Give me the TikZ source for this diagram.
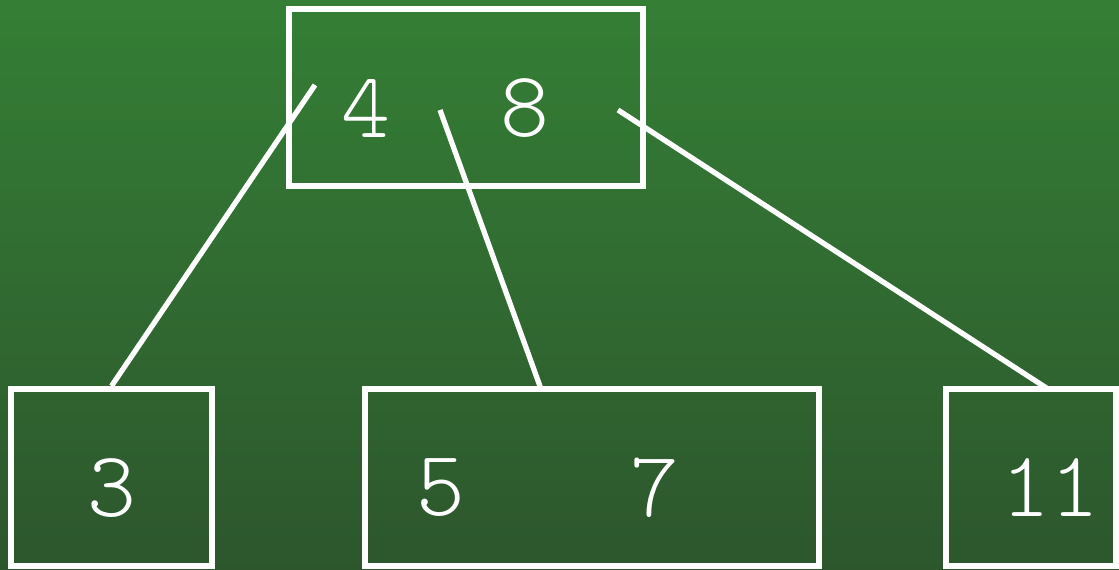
\documentclass[tikz,border=0pt]{standalone}
\usepackage{fontspec}
\setmonofont{Latin Modern Mono Light}
\usetikzlibrary{positioning}
\definecolor{treeTop}{HTML}{347F35}
\definecolor{treeBot}{HTML}{2D562D}

\begin{document}
\begin{tikzpicture}[
  x=0.02cm, y=-0.02cm, line width=3.4pt,
  font=\fontsize{53}{55}\selectfont\ttfamily,
  blk/.style={draw=white, minimum height=3.54cm, inner sep=0pt},
  key/.style={text=white, inner sep=0pt},
  link/.style={draw=white, line width=3pt}
]
% background
\shade[top color=treeTop, bottom color=treeBot] (0,0) rectangle (1119,570);
\useasboundingbox (0,0) rectangle (1119,570);

% root
\node[blk, minimum width=7.08cm] (root) at (466,97.5) {};
\node[key] (k4) at (366,108) {4};
\node[key] (k8) at (525,108) {8};

% leaves
\node[blk, minimum width=4.02cm] (left) at (111.5,477.5) {};
\node[key] (k3) at (112,488) {3};
\node[blk, minimum width=9.08cm] (mid) at (592,477.5) {};
\node[key] (k5) at (441,488) {5};
\node[key] (k7) at (655,488) {7};
\node[blk, minimum width=3.40cm] (right) at (1031,477.5) {};
\node[key] (k11) at (1050,488) {11};

% child pointers
\coordinate (p0) at (315,85);
\coordinate (p1) at (440,110);
\coordinate (p2) at (618,110);
\coordinate (q1) at (541,389);
\coordinate (q2) at (1048,389);
\draw[link] (p0) -- (left.north);
\draw[link] (p1) -- (q1);
\draw[link] (p2) -- (q2);
\end{tikzpicture}
\end{document}
